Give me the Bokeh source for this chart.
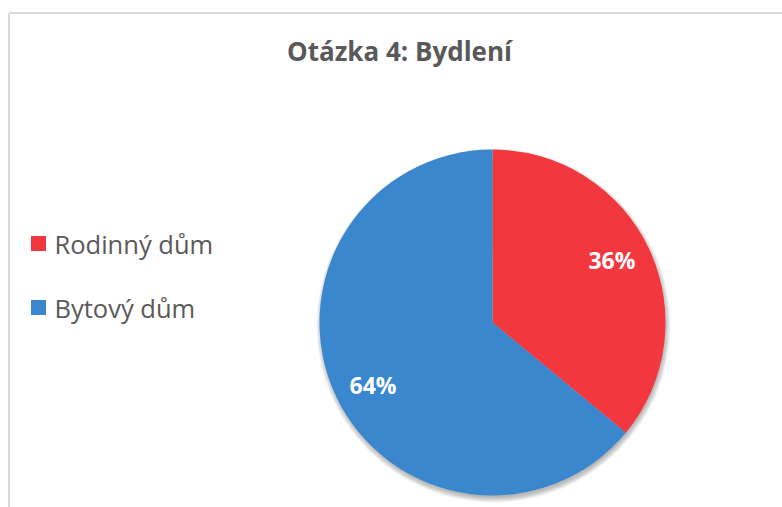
import math
from bokeh.plotting import figure
from bokeh.models import Range1d, ColumnDataSource
from bokeh.core.properties import value
from bokeh.embed import file_html
from bokeh.resources import INLINE

# ---- data ----
title = "Otázka 4: Bydlení"
categories = ["Rodinný dům", "Bytový dům"]
shares = [36, 64]
colors = ["#F2373F", "#3A87CE"]

W, H = 782, 507
FONT = "Open Sans"

def px(x):  # page x -> data x
    return x

def py(y):  # page y -> data y
    return H - y

p = figure(width=W, height=H, output_backend="svg", toolbar_location=None,
           x_range=Range1d(0, W), y_range=Range1d(0, H),
           min_border=0, outline_line_color=None)
p.axis.visible = False
p.grid.visible = False
p.background_fill_color = "white"
p.border_fill_color = "white"

# chart area border (clipped at right/bottom like the reference)
p.segment(x0=[px(8.5), px(8.5)], y0=[py(12.5), py(12.5)],
          x1=[px(8.5), W + 10], y1=[-10, py(12.5)],
          line_color="#D9D9D9", line_width=2)

# pie geometry
cx, cy, R = px(492), py(322), 173
total = float(sum(shares))
starts, ends, mids = [], [], []
cum = 0.0
for v in shares:
    a0 = math.pi / 2 - 2 * math.pi * (cum + v) / total
    a1 = math.pi / 2 - 2 * math.pi * cum / total
    starts.append(a0)
    ends.append(a1)
    mids.append((a0 + a1) / 2)
    cum += v

# soft shadow
for k in range(6):
    p.circle(x=[cx + 1], y=[cy - 3], radius=R + 4 - k, radius_units="screen",
             fill_color="black", fill_alpha=0.05, line_color=None)

src = ColumnDataSource(dict(start=starts, end=ends, color=colors))
p.wedge(x=cx, y=cy, radius=R, radius_units="screen",
        start_angle="start", end_angle="end", fill_color="color",
        line_color=None, source=src)

# percentage labels
lab_r = 0.78 * R
rot = math.radians(2.5)
lx = [cx + lab_r * math.cos(m + rot) for m in mids]
ly = [cy + lab_r * math.sin(m + rot) for m in mids]
p.text(x=lx, y=ly, text=[f"{v}%" for v in shares],
       text_font=value(FONT), text_font_style="bold", text_font_size="23px",
       text_color="white", text_align="center", text_baseline="middle")

# title
p.text(x=[px(399)], y=[py(50)], text=[title], text_font=value(FONT),
       text_font_style="bold", text_font_size="26px", text_color="#595959",
       text_align="center", text_baseline="middle")

# legend
leg_y = [py(243), py(307)]
p.rect(x=[px(38)] * 2, y=leg_y, width=15, height=15,
       width_units="screen", height_units="screen",
       fill_color=colors, line_color=None)
p.text(x=[px(54)] * 2, y=leg_y, text=categories, text_font=value(FONT),
       text_font_size="25.5px", text_color="#595959",
       text_align="left", text_baseline="middle")

open("out.html", "w").write(file_html(p, INLINE))
